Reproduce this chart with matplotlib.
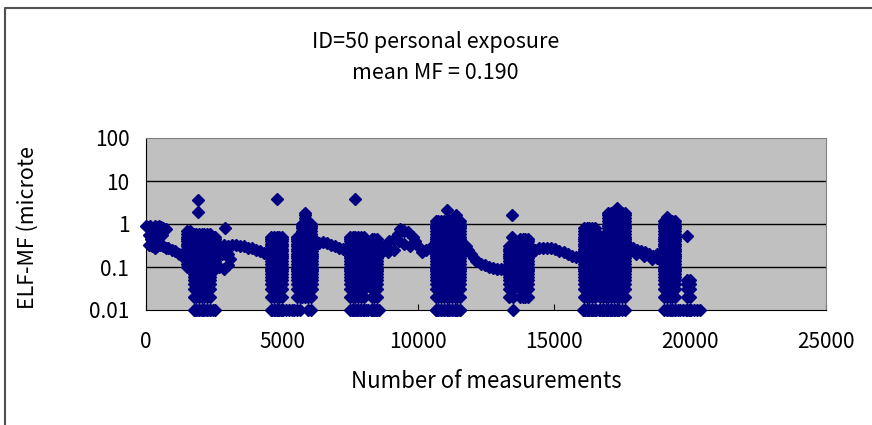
import numpy as np
import matplotlib.pyplot as plt
from matplotlib.lines import Line2D

plt.rcParams['font.family'] = ['Noto Sans CJK JP', 'DejaVu Sans']

# slowly varying background level: measurement index, field (microtesla)
trend_n = [0, 80, 160, 240, 320, 400, 480, 560, 640, 720,
           100, 200, 300, 450, 600,
           120, 220, 320, 420, 520, 620, 720, 820, 950, 1080, 1200, 1320, 1450,
           2700, 2850, 3000, 3150, 3300, 3450, 3600, 3750, 3900, 4050, 4200, 4350, 4500,
           2550, 2700, 2850, 3000, 3100, 2600, 2800, 3000,
           6200, 6350, 6500, 6650, 6800, 6950, 7100, 7250, 7400,
           8650, 8800, 8950, 9100, 9250, 9350, 9500, 9650, 9800, 9900, 10000,
           10150, 10300, 10450, 10550, 9300, 9500, 9700, 9100, 8900,
           11650, 11750, 11850, 11950, 12050, 12150, 12300, 12450, 12600,
           12750, 12900, 13050, 13200,
           14150, 14300, 14450, 14600, 14750, 14900, 15050, 15200, 15350,
           15500, 15650, 15800, 15950,
           17750, 17900, 18050, 18200, 18350, 18500, 18650, 18800, 18950,
           18000, 18300, 18600, 18800]
trend_b = [0.9, 0.85, 0.9, 0.8, 0.88, 0.85, 0.9, 0.85, 0.8, 0.75,
           0.55, 0.45, 0.6, 0.5, 0.55,
           0.32, 0.3, 0.28, 0.3, 0.32, 0.3, 0.28, 0.27, 0.25, 0.23, 0.2, 0.18, 0.17,
           0.3, 0.32, 0.3, 0.33, 0.32, 0.3, 0.3, 0.28, 0.27, 0.25, 0.23, 0.21, 0.22,
           0.12, 0.1, 0.09, 0.11, 0.15, 0.18, 0.2, 0.2,
           0.38, 0.37, 0.38, 0.36, 0.33, 0.3, 0.27, 0.26, 0.28,
           0.21, 0.3, 0.4, 0.45, 0.6, 0.75, 0.7, 0.65, 0.5, 0.4, 0.3,
           0.22, 0.25, 0.27, 0.3, 0.4, 0.35, 0.3, 0.25, 0.22,
           0.35, 0.3, 0.25, 0.2, 0.16, 0.14, 0.12, 0.11, 0.1,
           0.095, 0.09, 0.09, 0.085,
           0.2, 0.25, 0.27, 0.28, 0.28, 0.27, 0.26, 0.24, 0.22,
           0.2, 0.18, 0.17, 0.17,
           0.3, 0.27, 0.25, 0.24, 0.22, 0.2, 0.18, 0.16, 0.18,
           0.2, 0.18, 0.15, 0.2]

# meter readings (0.01 resolution at the low end)
levels = [0.01, 0.02, 0.03, 0.04, 0.05, 0.06, 0.07, 0.08, 0.09, 0.1,
          0.12, 0.14, 0.16, 0.18, 0.2, 0.23, 0.26, 0.3, 0.35, 0.4, 0.45,
          0.5, 0.6, 0.7, 0.8, 0.9, 1.0, 1.2, 1.4, 1.6, 1.8]

# fluctuating stretches: indices, lowest and highest reading
burst_n = [[1500, 1600], [1750, 1850, 1950, 2050, 2150, 2250, 2350], [2450, 2550],
           [4600, 4700, 4800, 4900, 5000], [5550, 5650], [5750], [5850], [5950, 6050], [6100],
           [7500, 7600, 7700, 7800, 7900, 8000], [8300, 8400, 8500],
           [10650, 10750, 10850, 10950, 11050, 11150, 11250, 11350, 11450, 11550],
           [13350], [13500], [13750, 13850, 13950, 14050],
           [16100, 16200, 16300, 16400, 16500], [16700, 16800, 16900],
           [17000, 17100, 17200, 17300, 17400, 17500, 17600],
           [19050, 19150, 19250, 19350, 19450], [19900, 20000]]
burst_lo = [0.1, 0.01, 0.09,
            0.01, 0.02, 0.02, 0.02, 0.01, 0.03,
            0.01, 0.01,
            0.01,
            0.02, 0.01, 0.02,
            0.01, 0.01,
            0.01,
            0.01, 0.01]
burst_hi = [0.7, 0.65, 0.5,
            0.5, 0.5, 1.0, 1.8, 1.0, 0.5,
            0.5, 0.45,
            1.2,
            0.3, 0.3, 0.45,
            0.8, 0.5,
            1.8,
            1.2, 0.05]

# readings stuck at the lower limit
floor_n = [1850, 1950, 2050, 2150, 2250, 2350, 2450, 2550,
           4650, 4750, 4850, 4950, 5050, 5150, 5250, 5350, 5450, 5550, 5650,
           7570, 7670, 7770, 7870, 7970, 8070, 8170, 8270, 8370, 8470, 8570,
           10650, 10750, 10850, 10950, 11050, 11150, 11250, 11350, 11450, 11550,
           16050, 16150, 16250, 16350, 16450, 16550, 16650, 16750, 16850,
           16950, 17050, 17150, 17250, 17350,
           19150, 19250, 19350, 19450, 19550, 19650, 19750, 19850, 19950,
           20050, 20150, 20250, 20350]

# isolated high readings
spike_n = [1900, 1900, 2900, 4800, 7680, 11050, 11400, 13450, 13450,
           17300, 19150, 19900]
spike_b = [3.6, 1.9, 0.8, 3.8, 3.8, 2.1, 1.6, 1.6, 0.5, 2.3, 1.45, 0.52]

xs = list(trend_n) + list(spike_n) + list(floor_n)
ys = list(trend_b) + list(spike_b) + [0.01] * len(floor_n)
for ns, lo, hi in zip(burst_n, burst_lo, burst_hi):
    for n in ns:
        for v in levels:
            if lo <= v <= hi:
                xs.append(n)
                ys.append(v)

fig = plt.figure(figsize=(8.72, 4.25), dpi=100)
# chart-area frame: only the top and left edges fall inside the image
fig.lines.append(Line2D([5 / 872, 5 / 872, 1.0], [0.0, 1 - 8 / 425, 1 - 8 / 425],
                        transform=fig.transFigure, color='#505050', lw=1.5))

ax = fig.add_axes([146 / 872, 1 - 310 / 425, 680 / 872, 172 / 425])
ax.set_facecolor('#c0c0c0')
ax.set_yscale('log')
ax.set_ylim(0.01, 100)
ax.set_xlim(0, 25000)

for v in [0.1, 1, 10]:
    ax.axhline(v, color='black', lw=1.0, zorder=1)

ax.plot(xs, ys, 'D', color='#000080', ms=6.5, mec='#000080', clip_on=False, zorder=3)

ax.set_xticks([0, 5000, 10000, 15000, 20000, 25000])
ax.set_xticklabels(['0', '5000', '10000', '15000', '20000', '25000'])
ax.set_yticks([0.01, 0.1, 1, 10, 100])
ax.set_yticklabels(['0.01', '0.1', '1', '10', '100'])
ax.minorticks_off()
ax.tick_params(axis='both', direction='in', length=4, labelsize=15, colors='black')
ax.tick_params(axis='x', pad=15)
ax.tick_params(axis='y', length=0, pad=12)

for side in ['top', 'right']:
    ax.spines[side].set_color('#808080')
for side in ['left', 'bottom']:
    ax.spines[side].set_color('black')

ax.set_xlabel('Number of measurements', fontsize=16, labelpad=12)
fig.text(28 / 872, 1 - 228 / 425, 'ELF-MF (microte', rotation=90,
         ha='center', va='center', fontsize=15.5)

fig.text(0.499, 1 - 42 / 425, 'ID=50 personal exposure', ha='center', va='center', fontsize=15.5)
fig.text(0.499, 1 - 73 / 425, 'mean MF = 0.190', ha='center', va='center', fontsize=15.5)

fig.savefig('out.png', dpi=100)
